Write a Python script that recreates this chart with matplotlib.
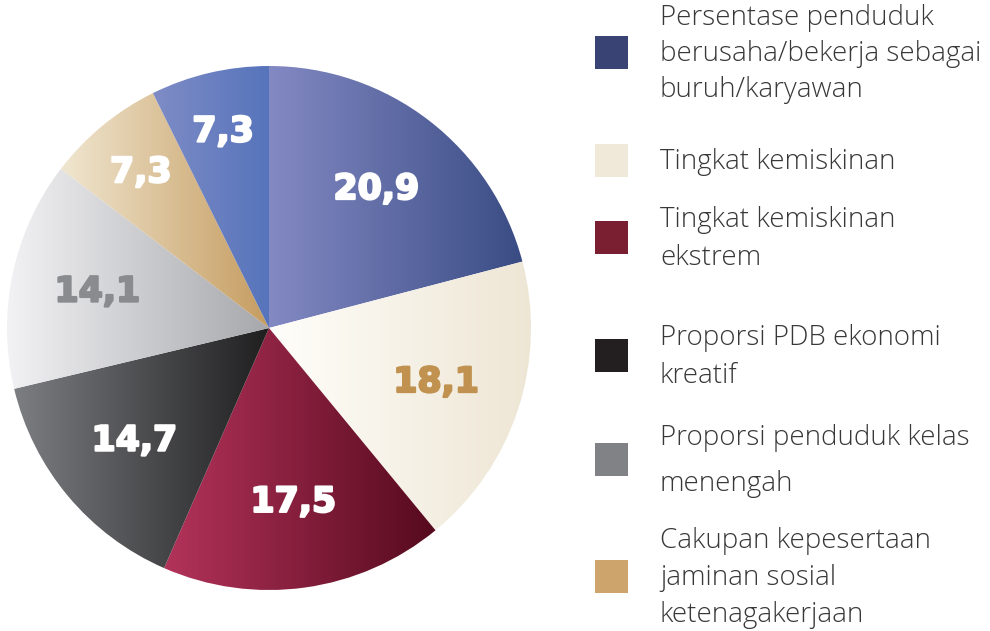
import numpy as np
import matplotlib
import matplotlib.pyplot as plt
import matplotlib.patheffects as pe
from matplotlib.colors import LinearSegmentedColormap

matplotlib.use('Agg')

# data
values = [20.9, 18.1, 17.5, 14.7, 14.1, 7.3, 7.3]
value_labels = ['20,9', '18,1', '17,5', '14,7', '14,1', '7,3', '7,3']
legend_labels = [
    'Persentase penduduk\nberusaha/bekerja sebagai\nburuh/karyawan',
    'Tingkat kemiskinan',
    'Tingkat kemiskinan\nekstrem',
    'Proporsi PDB ekonomi\nkreatif',
    'Proporsi penduduk kelas\nmenengah',
    'Cakupan kepesertaan\njaminan sosial\nketenagakerjaan',
]

# gradient (left -> right) for each slice
grad_left = ['#8389c3', '#fffefa', '#b3335a', '#7d7e82', '#f2f2f4', '#f0e6d0', '#7f8cc6']
grad_right = ['#3a4c84', '#eee6d5', '#560a1e', '#1f1f20', '#a7a8ac', '#c59c60', '#5674bb']
label_colors = ['white', '#c0914f', 'white', 'white', '#8a8b8e', 'white', 'white']
legend_colors = ['#394475', '#f0e8d8', '#7a1f31', '#231f20', '#808285', '#cda46b']

W, H = 990, 631
fig = plt.figure(figsize=(W / 100, H / 100), dpi=100)

# pie axes: center (269, 328) px, radius 262 px
cx, cy, r = 269, 328, 262
ax = fig.add_axes([(cx - r) / W, (H - cy - r) / H, 2 * r / W, 2 * r / H])
wedges, _ = ax.pie(values, startangle=90, counterclock=False, radius=1,
                   wedgeprops=dict(linewidth=0))
ax.set_xlim(-1, 1)
ax.set_ylim(-1, 1)
ax.set_aspect('equal')
ax.axis('off')

grad = np.linspace(0, 1, 256).reshape(1, -1)
for i, w in enumerate(wedges):
    ext = w.get_path().get_extents()
    cmap = LinearSegmentedColormap.from_list('g%d' % i, [grad_left[i], grad_right[i]])
    im = ax.imshow(grad, cmap=cmap, aspect='auto', interpolation='bicubic',
                   extent=[ext.x0, ext.x1, -1, 1], zorder=1)
    im.set_clip_path(w)
    w.set_facecolor('none')

    ang = np.deg2rad((w.theta1 + w.theta2) / 2)
    rr = 0.77 if values[i] < 10 else 0.67
    ax.text(rr * np.cos(ang), rr * np.sin(ang), value_labels[i],
            ha='center', va='center', fontsize=25, fontweight='bold',
            family='DejaVu Sans', color=label_colors[i], zorder=3,
            path_effects=[pe.withStroke(linewidth=1.6, foreground=label_colors[i])])

# legend
leg_y = [52, 160, 237, 355, 459, 576]
leg_ls = [1.37, 1.37, 1.48, 1.5, 1.83, 1.45]
lax = fig.add_axes([0, 0, 1, 1])
lax.set_xlim(0, W)
lax.set_ylim(H, 0)
lax.axis('off')
for lab, col, y, ls in zip(legend_labels, legend_colors, leg_y, leg_ls):
    lax.add_patch(plt.Rectangle((595, y - 16.5), 33, 33, facecolor=col, edgecolor='none'))
    lax.text(660, y + 2, lab, ha='left', va='center', fontsize=20,
             family='Open Sans', fontweight='light', color='#383838', linespacing=ls)

fig.savefig('out.png', dpi=100)
